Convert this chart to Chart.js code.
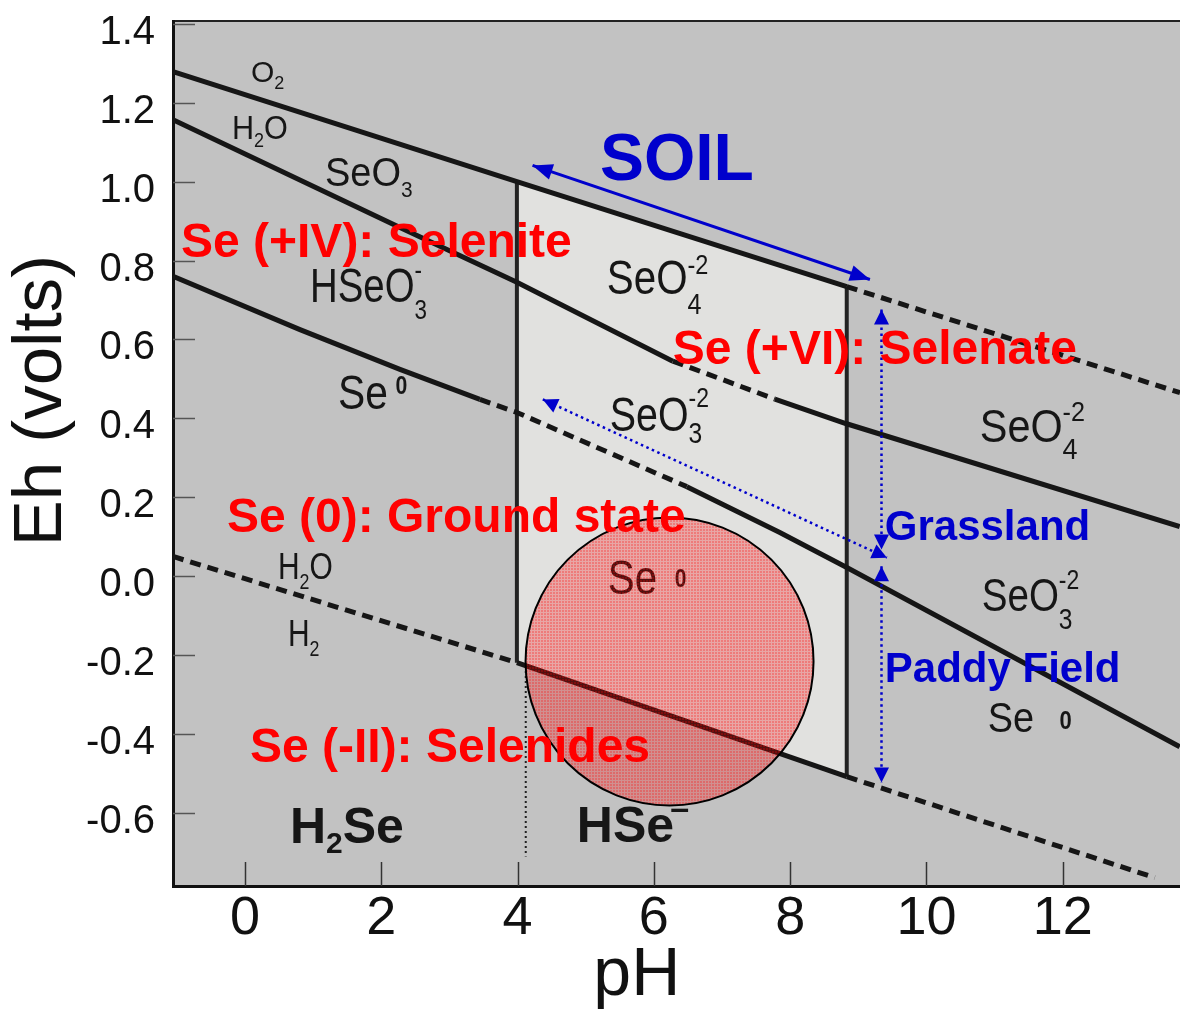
<!DOCTYPE html>
<html>
  <head>
    <meta charset="utf-8" />
    <script src="https://cdn.jsdelivr.net/npm/chart.js@4.4.1/dist/chart.umd.min.js"></script>
    <style>
      html,
      body {
        margin: 0;
        padding: 0;
        background: #fff;
      }
      .wrapper {
        width: 1180px;
        height: 1011px;
      }
    </style>
  </head>
  <body>
    <div class="wrapper">
      <canvas id="ehChart"></canvas>
    </div>

    <script>
      // axis ticks
      const xTicks = [0, 2, 4, 6, 8, 10, 12];
      const yTicks = [-0.6, -0.4, -0.2, 0, 0.2, 0.4, 0.6, 0.8, 1.0, 1.2, 1.4];

      // water stability limits (O2/H2O on top, H2O/H2 below)
      const o2Ph = [-1.056, 3.99, 8.83, 13.72];
      const o2Eh = [1.279, 1.0, 0.734, 0.465];
      const h2Ph = [-1.056, 3.99, 8.83, 13.35];
      const h2Eh = [0.05, -0.219, -0.508, -0.764];

      // SeO4 / Se(IV) boundary
      const seo4Ph = [-1.056, 2.274, 3.99, 6.278, 7.775, 8.816, 13.716];
      const seo4Eh = [1.157, 0.884, 0.745, 0.545, 0.449, 0.387, 0.126];

      // Se(IV) / Se0 boundary
      const se0Ph = [-1.056, 0.807, 2.274, 3.447, 3.99, 6.484, 7.848, 8.831, 13.716];
      const se0Eh = [0.76, 0.625, 0.524, 0.448, 0.415, 0.227, 0.111, 0.022, -0.432];

      // H2Se / HSe- divide
      const pkaPh = [4.12, 4.12];
      const pkaEh = [-0.24, -0.71];

      // blue arrows
      const soilPh = [4.22, 9.17];
      const soilEh = [1.041, 0.752];
      const grassPh = [9.34, 9.34];
      const grassEh = [0.676, 0.068];
      const paddyPh = [9.34, 9.34];
      const paddyEh = [0.025, -0.523];
      const diagPh = [4.37, 9.42];
      const diagEh = [0.448, 0.047];

      // Se0 zone marker
      const circlePh = 6.23;
      const circleEh = -0.216;

      const FONT = "Arial, 'Liberation Sans', Helvetica, sans-serif";
      const INK = "#161616";
      const BLUE = "#0000cc";

      const pts = (xs, ys) => xs.map((x, i) => ({ x: x, y: ys[i] }));
      const dashAt = (list) => (ctx) =>
        list.includes(ctx.p0DataIndex) ? [11, 7] : undefined;

      // small red halftone used inside the circle
      const tile = document.createElement("canvas");
      tile.width = 3;
      tile.height = 3;
      const tctx = tile.getContext("2d");
      tctx.fillStyle = "rgba(255,0,0,0.45)";
      tctx.fillRect(1, 1, 2, 2);
      tctx.fillStyle = "rgba(255,0,0,0.26)";
      tctx.fillRect(0, 0, 3, 1);
      tctx.fillRect(0, 1, 1, 2);
      const halftone = tctx.createPattern(tile, "repeat");

      // black species names, placed at left/baseline in data units
      const speciesLabels = [
        { x: 0.088, y: 1.252, sx: 1, parts: [{ t: "O", s: 30 }, { t: "2", s: 18, dy: 7 }] },
        { x: -0.191, y: 1.109, sx: 0.9, parts: [{ t: "H", s: 34 }, { t: "2", s: 20, dy: 8 }, { t: "O", s: 34 }] },
        { x: 1.174, y: 0.99, sx: 0.95, parts: [{ t: "SeO", s: 40 }, { t: "3", s: 22, dy: 11 }] },
        { x: 0.954, y: 0.694, sx: 0.8, parts: [{ t: "HSeO", s: 48 }, { t: "-", s: 28, dy: -23, stay: true }, { t: "3", s: 28, dy: 17 }] },
        { x: 1.364, y: 0.423, sx: 0.85, parts: [{ t: "Se", s: 48 }, { t: "0", s: 25, b: true, dy: -15, dx: 9 }] },
        { x: 5.31, y: 0.714, sx: 0.84, parts: [{ t: "SeO", s: 48 }, { t: "-2", s: 28, dy: -20, stay: true }, { t: "4", s: 30, dy: 20 }] },
        { x: 5.354, y: 0.367, sx: 0.82, parts: [{ t: "SeO", s: 48 }, { t: "-2", s: 28, dy: -24, stay: true }, { t: "3", s: 30, dy: 12 }] },
        { x: 10.782, y: 0.339, sx: 0.9, parts: [{ t: "SeO", s: 46 }, { t: "-2", s: 28, dy: -21, stay: true }, { t: "4", s: 30, dy: 17 }] },
        { x: 0.484, y: -0.008, sx: 0.81, parts: [{ t: "H", s: 37 }, { t: "2", s: 22, dy: 10 }, { t: "O", s: 37 }] },
        { x: 0.631, y: -0.178, sx: 0.81, parts: [{ t: "H", s: 37 }, { t: "2", s: 22, dy: 10 }] },
        { x: 5.325, y: -0.046, sx: 0.84, parts: [{ t: "Se", s: 48 }, { t: "0", s: 25, b: true, dy: -7, dx: 21 }] },
        { x: 10.811, y: -0.089, sx: 0.82, parts: [{ t: "SeO", s: 47 }, { t: "-2", s: 28, dy: -22, stay: true }, { t: "3", s: 30, dy: 18 }] },
        { x: 10.899, y: -0.396, sx: 0.88, parts: [{ t: "Se", s: 43 }, { t: "0", s: 25, b: true, dy: -3, dx: 29 }] },
        { x: 0.66, y: -0.675, sx: 1, parts: [{ t: "H", s: 50, b: true }, { t: "2", s: 30, b: true, dy: 10 }, { t: "Se", s: 50, b: true }] },
        { x: 4.87, y: -0.673, sx: 1, parts: [{ t: "HSe", s: 50, b: true }, { t: "\u2013", s: 34, b: true, dy: -23, dx: -4 }] },
      ];

      const stateLabels = [
        { x: -0.939, y: 0.808, color: "#ff0000", parts: [{ t: "Se (+IV): Selenite", s: 48, b: true }] },
        { x: 6.278, y: 0.537, color: "#ff0000", parts: [{ t: "Se (+VI): Selenate", s: 48, b: true }] },
        { x: -0.264, y: 0.113, color: "#ff0000", parts: [{ t: "Se (0): Ground state", s: 48, b: true }] },
        { x: 0.073, y: -0.472, color: "#ff0000", parts: [{ t: "Se (-II): Selenides", s: 48, b: true }] },
        { x: 5.208, y: 1.004, color: BLUE, parts: [{ t: "SOIL", s: 66, b: true }] },
        { x: 9.388, y: 0.093, color: BLUE, parts: [{ t: "Grassland", s: 42, b: true }] },
        { x: 9.388, y: -0.267, color: BLUE, parts: [{ t: "Paddy Field", s: 42, b: true }] },
      ];

      function drawLabel(chart, lab) {
        const ctx = chart.ctx;
        const px = chart.scales.x.getPixelForValue(lab.x);
        const py = chart.scales.y.getPixelForValue(lab.y);
        ctx.save();
        ctx.translate(px, py);
        ctx.scale(lab.sx || 1, 1);
        ctx.fillStyle = lab.color || INK;
        ctx.textAlign = "left";
        ctx.textBaseline = "alphabetic";
        let cx = 0;
        lab.parts.forEach((p) => {
          ctx.font = (p.b ? "bold " : "") + p.s + "px " + FONT;
          const x0 = cx + (p.dx || 0);
          ctx.fillText(p.t, x0, p.dy || 0);
          if (!p.stay) cx = x0 + ctx.measureText(p.t).width;
        });
        ctx.restore();
      }

      function arrowHead(ctx, from, to, len, half, color) {
        const a = Math.atan2(to.y - from.y, to.x - from.x);
        ctx.save();
        ctx.fillStyle = color;
        ctx.translate(to.x, to.y);
        ctx.rotate(a);
        ctx.beginPath();
        ctx.moveTo(0, 0);
        ctx.lineTo(-len, -half);
        ctx.lineTo(-len, half);
        ctx.closePath();
        ctx.fill();
        ctx.restore();
      }

      const arrows = [
        { ph: soilPh, eh: soilEh, len: 20, half: 8 },
        { ph: grassPh, eh: grassEh, len: 15, half: 7.5 },
        { ph: paddyPh, eh: paddyEh, len: 15, half: 7.5 },
        { ph: diagPh, eh: diagEh, len: 15, half: 7.5 },
      ];

      const diagramPlugin = {
        id: "diagram",
        beforeDraw(chart) {
          const { ctx, chartArea: a } = chart;
          ctx.save();
          ctx.fillStyle = "#c2c2c2";
          ctx.fillRect(a.left, a.top, a.right - a.left, a.bottom - a.top);
          ctx.restore();
        },
        beforeDatasetsDraw(chart) {
          // inward tick marks
          const { ctx, chartArea: a } = chart;
          const xs = chart.scales.x;
          const ys = chart.scales.y;
          ctx.save();
          ctx.lineWidth = 1.5;
          ctx.strokeStyle = "#555";
          ys.ticks.forEach((t) => {
            const py = Math.round(ys.getPixelForValue(t.value)) + 0.5;
            ctx.beginPath();
            ctx.moveTo(a.left, py);
            ctx.lineTo(a.left + 22, py);
            ctx.stroke();
          });
          ctx.strokeStyle = "#333";
          xs.ticks.forEach((t) => {
            const px = Math.round(xs.getPixelForValue(t.value)) + 0.5;
            ctx.beginPath();
            ctx.moveTo(px, a.bottom);
            ctx.lineTo(px, a.bottom - 24);
            ctx.stroke();
          });
          ctx.restore();
        },
        beforeDatasetDraw(chart, args) {
          if (args.meta.type === "bubble") {
            speciesLabels.forEach((lab) => drawLabel(chart, lab));
          }
        },
        afterDatasetsDraw(chart) {
          const ctx = chart.ctx;
          const xs = chart.scales.x;
          const ys = chart.scales.y;
          arrows.forEach((ar) => {
            const p0 = { x: xs.getPixelForValue(ar.ph[0]), y: ys.getPixelForValue(ar.eh[0]) };
            const p1 = { x: xs.getPixelForValue(ar.ph[1]), y: ys.getPixelForValue(ar.eh[1]) };
            arrowHead(ctx, p1, p0, ar.len, ar.half, BLUE);
            arrowHead(ctx, p0, p1, ar.len, ar.half, BLUE);
          });
          stateLabels.forEach((lab) => drawLabel(chart, lab));

          // axis titles
          ctx.save();
          ctx.fillStyle = "#111";
          ctx.textAlign = "center";
          ctx.textBaseline = "middle";
          ctx.font = "69px " + FONT;
          ctx.translate(ys.left + 42, ys.getPixelForValue(0.445));
          ctx.rotate(-Math.PI / 2);
          ctx.fillText("Eh (volts)", 0, 0);
          ctx.restore();
          ctx.save();
          ctx.fillStyle = "#111";
          ctx.textAlign = "center";
          ctx.textBaseline = "middle";
          ctx.font = "68px " + FONT;
          ctx.fillText("pH", xs.getPixelForValue(5.75), xs.bottom - 35);
          ctx.restore();
        },
      };

      const lineSet = (data, extra) =>
        Object.assign(
          {
            data: data,
            showLine: true,
            fill: false,
            tension: 0,
            pointRadius: 0,
            borderColor: INK,
            borderWidth: 5,
            backgroundColor: "transparent",
            order: 5,
          },
          extra
        );

      const ctx = document.getElementById("ehChart").getContext("2d");

      const ehChart = new Chart(ctx, {
        type: "scatter",
        data: {
          datasets: [
            // stability field of soils (light box)
            lineSet(pts(o2Ph.slice(1, 3), o2Eh.slice(1, 3)), { borderWidth: 0, order: 10 }),
            lineSet(pts(h2Ph.slice(1, 3), h2Eh.slice(1, 3)), {
              borderWidth: 0,
              fill: "-1",
              backgroundColor: "#e1e1df",
              order: 9,
            }),
            lineSet(pts(o2Ph, o2Eh), { segment: { borderDash: dashAt([2]) } }),
            lineSet(pts(h2Ph, h2Eh), { segment: { borderDash: dashAt([0, 2]) } }),
            lineSet(pts(seo4Ph, seo4Eh), { segment: { borderDash: dashAt([3]) } }),
            lineSet(pts(se0Ph, se0Eh), { segment: { borderDash: dashAt([3, 4]) } }),
            lineSet(
              [
                { x: o2Ph[1], y: o2Eh[1] },
                { x: h2Ph[1], y: h2Eh[1] },
              ],
              { borderWidth: 4, borderColor: "#222" }
            ),
            lineSet(
              [
                { x: o2Ph[2], y: o2Eh[2] },
                { x: h2Ph[2], y: h2Eh[2] },
              ],
              { borderWidth: 4, borderColor: "#222" }
            ),
            lineSet(pts(pkaPh, pkaEh), { borderWidth: 2, borderColor: "#222", borderDash: [2, 3] }),
            {
              type: "bubble",
              data: [{ x: circlePh, y: circleEh, r: 144 }],
              backgroundColor: halftone,
              borderColor: "#000",
              borderWidth: 2,
              order: 2,
            },
            lineSet(pts(soilPh, soilEh), { borderWidth: 3, borderColor: BLUE, order: 1 }),
            lineSet(pts(grassPh, grassEh), { borderWidth: 2.5, borderColor: BLUE, borderDash: [2.5, 3.5], order: 1 }),
            lineSet(pts(paddyPh, paddyEh), { borderWidth: 2.5, borderColor: BLUE, borderDash: [2.5, 3.5], order: 1 }),
            lineSet(pts(diagPh, diagEh), { borderWidth: 2.5, borderColor: BLUE, borderDash: [2.5, 3.5], order: 1 }),
          ],
        },
        options: {
          responsive: true,
          maintainAspectRatio: false,
          animation: false,
          events: [],
          devicePixelRatio: 1,
          layout: { padding: 0, autoPadding: false },
          plugins: {
            legend: { display: false },
            tooltip: { enabled: false },
          },
          scales: {
            x: {
              type: "linear",
              position: "bottom",
              min: -1.056,
              max: 13.72,
              afterBuildTicks: (s) => {
                s.ticks = xTicks.map((v) => ({ value: v }));
              },
              afterFit: (s) => {
                s.height = 125;
                s.paddingLeft = 0;
                s.paddingRight = 0;
              },
              grid: { display: false, drawTicks: false },
              border: { display: true, color: "#111", width: 3 },
              ticks: {
                autoSkip: false,
                maxRotation: 0,
                padding: 1,
                color: "#111",
                font: { family: FONT, size: 54, lineHeight: 1.2 },
                callback: (v) => String(v),
              },
            },
            x2: {
              type: "linear",
              position: "top",
              min: -1.056,
              max: 13.72,
              grid: { display: false, drawTicks: false },
              ticks: { display: false },
              border: { display: true, color: "#222", width: 2 },
              afterFit: (s) => {
                s.height = 21;
                s.paddingLeft = 0;
                s.paddingRight = 0;
              },
            },
            y: {
              type: "linear",
              min: -0.785,
              max: 1.407,
              afterBuildTicks: (s) => {
                s.ticks = yTicks.map((v) => ({ value: v }));
              },
              afterFit: (s) => {
                s.width = 173;
                s.paddingTop = 0;
                s.paddingBottom = 0;
              },
              grid: { display: false, drawTicks: false },
              border: { display: true, color: "#111", width: 3 },
              ticks: {
                padding: 18,
                labelOffset: 9,
                color: "#111",
                font: { family: FONT, size: 40 },
                callback: (v) => Number(v).toFixed(1),
              },
            },
          },
        },
        plugins: [diagramPlugin],
      });
    </script>
  </body>
</html>
